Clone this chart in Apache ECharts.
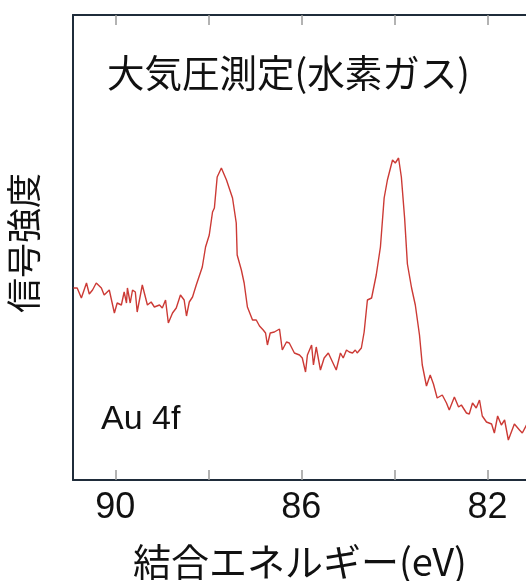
<!DOCTYPE html>
<html>
<head>
<meta charset="utf-8">
<script src="https://cdn.jsdelivr.net/npm/echarts@6/dist/echarts.min.js"></script>
<style>html,body{margin:0;padding:0;background:#fff;}#c{width:526px;height:581px;}</style>
</head>
<body>
<div id="c"></div>
<script>
// Binding energy (eV) and signal intensity (arbitrary units)
const energy = [90.90,90.82,90.73,90.62,90.56,90.49,90.41,90.30,90.24,90.13,90.02,89.96,89.87,89.81,89.76,89.74,89.68,89.63,89.57,89.53,89.42,89.31,89.23,89.16,89.05,88.99,88.92,88.86,88.77,88.69,88.60,88.52,88.47,88.41,88.34,88.26,88.22,88.13,88.06,87.98,87.91,87.87,87.81,87.72,87.68,87.61,87.57,87.48,87.40,87.38,87.29,87.23,87.16,87.05,86.97,86.90,86.82,86.77,86.73,86.67,86.58,86.47,86.41,86.32,86.26,86.22,86.15,86.04,85.98,85.91,85.87,85.78,85.74,85.68,85.59,85.51,85.42,85.33,85.25,85.16,85.10,85.03,84.97,84.90,84.84,84.80,84.71,84.65,84.58,84.49,84.39,84.30,84.26,84.22,84.15,84.04,83.98,83.91,83.85,83.78,83.72,83.63,83.55,83.46,83.40,83.31,83.23,83.16,83.08,82.97,82.88,82.82,82.71,82.62,82.56,82.45,82.39,82.32,82.24,82.17,82.11,82.02,81.91,81.85,81.78,81.70,81.63,81.55,81.42,81.31,81.25,81.16];
const intensity = [192,192,182,197,186,190,197,192,185,190,167,177,175,188,177,192,177,190,188,168,195,175,178,173,175,172,180,157,167,172,185,180,164,178,183,195,193,213,233,245,268,272,303,312,313,300,298,282,257,225,210,197,173,160,160,154,150,147,135,147,148,151,130,138,137,138,127,125,122,108,125,135,115,133,110,122,127,118,110,127,122,130,128,127,130,127,132,148,180,182,205,233,235,282,300,320,317,322,303,262,216,192,175,145,115,94,105,96,82,85,77,70,83,73,75,67,66,77,72,80,64,58,56,47,64,55,60,40,56,50,47,55];
const tickValues = [82, 84, 86, 88, 90];
const tickLabels = [82, 86, 90];

const data = energy.map((e, i) => [e, intensity[i]]);
const latin = "'Liberation Sans', Arial, sans-serif";
const cjk = "'Noto Sans CJK JP', sans-serif";

const chart = echarts.init(document.getElementById('c'));
const xCommon = {
  type: 'value', inverse: true, min: 81.17, max: 90.91,
  splitLine: { show: false },
  axisLine: { show: true, onZero: false, lineStyle: { color: '#1f2c3a', width: 2 } },
  axisTick: { show: true, inside: true, length: 10, customValues: tickValues, lineStyle: { color: '#9a9a9a', width: 1.5 } }
};
chart.setOption({
  animation: false,
  grid: { left: 73, top: 15, bottom: 101, right: 0, containLabel: false },
  xAxis: [
    Object.assign({}, xCommon, {
      position: 'bottom',
      axisLabel: { show: true, margin: 10, color: '#111', fontSize: 36, fontFamily: latin, customValues: tickLabels }
    }),
    Object.assign({}, xCommon, { position: 'top', axisLabel: { show: false } })
  ],
  yAxis: {
    type: 'value', min: 0, max: 465,
    axisLine: { show: true, lineStyle: { color: '#1f2c3a', width: 2 } },
    axisTick: { show: false }, axisLabel: { show: false }, splitLine: { show: false }
  },
  series: [{
    type: 'line', data: data, xAxisIndex: 0, showSymbol: false, smooth: false,
    lineStyle: { color: '#cc3a35', width: 1.4 }
  }],
  graphic: [
    { type: 'text', left: 107, top: 54, style: { text: '大気圧測定(水素ガス)', font: '37.5px ' + cjk, fill: '#111' } },
    { type: 'text', left: 101, top: 403, style: { text: 'Au 4f', font: '34px ' + latin, fill: '#111' } },
    { type: 'text', left: 133, top: 543, style: { text: '結合エネルギー(eV)', font: '38px ' + cjk, fill: '#111' } },
    { type: 'text', x: 24, y: 243, rotation: Math.PI / 2,
      style: { text: '信号強度', font: '35px ' + cjk, fill: '#111', align: 'center', verticalAlign: 'middle' } }
  ]
});
</script>
</body>
</html>
